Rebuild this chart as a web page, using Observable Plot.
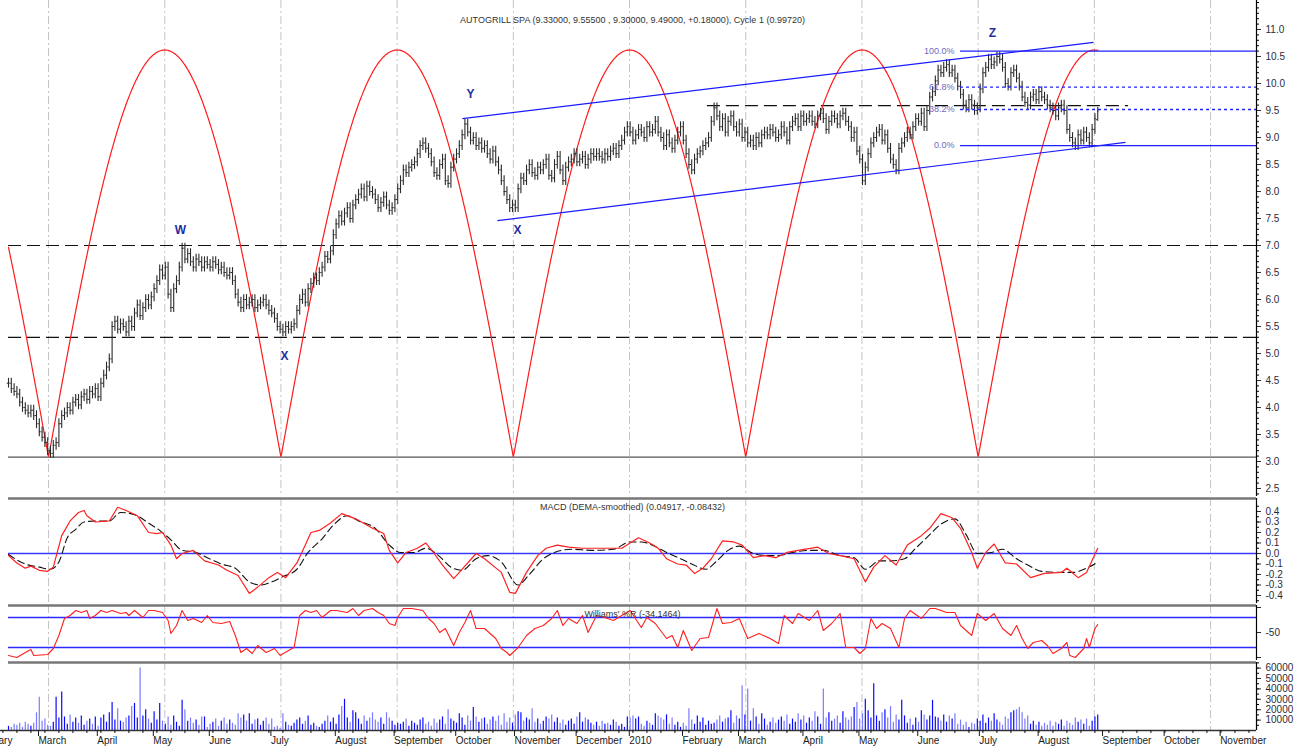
<!DOCTYPE html>
<html><head><meta charset="utf-8">
<script src="https://cdn.jsdelivr.net/npm/d3@7"></script>
<script src="https://cdn.jsdelivr.net/npm/@observablehq/plot@0.6"></script>
<style>
html,body{margin:0;padding:0;background:#fff;}
#chart svg{display:block;}
</style></head><body><div id="chart"></div>
<script>
// ---------- DATA ----------
const titleText = "AUTOGRILL SPA (9.33000, 9.55500 , 9.30000, 9.49000, +0.18000), Cycle 1 (0.99720)";
const macdTitle = "MACD (DEMA-smoothed) (0.04917, -0.08432)";
const willTitle = "Williams' %R (-34.1464)";

// daily closes, one per trading day (bar index 0..389)
const closes = [
4.45,4.35,4.3,4.25,4.1,4.0,3.95,3.9,3.95,3.85,
3.7,3.55,3.45,3.35,3.2,3.15,3.3,3.35,3.7,3.85,
3.9,4.0,3.95,4.1,4.15,4.05,4.2,4.25,4.15,4.3,
4.25,4.35,4.2,4.45,4.6,4.75,4.9,5.5,5.6,5.45,
5.55,5.5,5.4,5.6,5.5,5.75,5.9,5.7,5.85,6.0,
5.9,6.05,6.2,6.35,6.55,6.45,6.6,6.1,5.85,6.2,
6.35,6.6,6.95,6.75,6.85,6.7,6.6,6.75,6.7,6.6,
6.7,6.65,6.6,6.7,6.65,6.55,6.6,6.5,6.45,6.5,
6.35,6.1,5.95,5.85,6.0,5.9,5.95,6.0,5.85,5.9,
5.95,6.0,5.9,5.8,5.75,5.65,5.5,5.45,5.4,5.5,
5.45,5.5,5.55,5.8,6.0,6.1,5.95,6.2,6.3,6.4,
6.35,6.5,6.6,6.8,6.75,6.9,7.2,7.4,7.55,7.45,
7.6,7.7,7.5,7.75,7.85,7.95,8.05,7.9,8.1,8.0,
7.95,7.85,7.7,7.8,7.9,7.75,7.65,7.7,7.85,8.05,
8.2,8.4,8.35,8.45,8.5,8.55,8.7,8.85,8.9,8.8,
8.7,8.55,8.35,8.3,8.5,8.6,8.2,8.15,8.45,8.6,
8.7,8.85,9.05,9.25,9.1,8.95,9.0,8.85,8.9,8.8,
8.85,8.7,8.6,8.75,8.55,8.4,8.2,8.0,7.85,7.7,
7.75,7.7,8.05,8.25,8.2,8.4,8.5,8.35,8.3,8.45,
8.4,8.5,8.6,8.3,8.25,8.5,8.65,8.4,8.2,8.45,
8.55,8.6,8.7,8.55,8.6,8.65,8.5,8.6,8.7,8.65,
8.7,8.65,8.6,8.7,8.65,8.75,8.8,8.7,8.85,8.95,
9.1,9.2,9.1,8.95,9.05,9.15,9.1,9.0,9.2,9.1,
9.15,9.3,9.1,9.0,8.85,9.05,8.9,8.8,8.95,9.1,
9.2,8.95,8.7,8.5,8.4,8.6,8.7,8.75,8.85,8.9,
9.0,9.3,9.55,9.4,9.2,9.35,9.1,9.3,9.4,9.2,
9.1,9.25,9.0,9.1,8.9,8.95,8.85,9.0,8.9,9.05,
9.1,9.05,9.15,9.1,9.0,9.05,9.2,9.1,8.95,9.2,
9.3,9.35,9.2,9.4,9.3,9.35,9.4,9.3,9.25,9.4,
9.45,9.35,9.15,9.3,9.4,9.35,9.25,9.4,9.45,9.3,
9.2,9.0,9.1,8.75,8.6,8.2,8.45,8.7,8.9,9.0,
9.1,9.15,8.95,9.05,8.8,8.6,8.5,8.4,8.8,8.9,
9.0,9.1,9.05,9.2,9.35,9.3,9.45,9.2,9.5,9.75,
9.85,10.05,10.25,10.2,10.3,10.35,10.2,10.25,10.1,9.95,
9.8,9.6,9.55,9.7,9.6,9.5,9.55,9.9,10.2,10.3,
10.45,10.35,10.4,10.5,10.45,10.3,10.0,9.95,10.2,10.25,
10.1,9.95,9.75,9.65,9.6,9.75,9.8,9.7,9.85,9.75,
9.7,9.6,9.55,9.5,9.4,9.55,9.6,9.5,9.15,9.0,
8.9,8.85,9.05,8.95,9.1,9.0,8.9,9.15,9.35,9.49];
const lastBar = {open: 9.33, high: 9.555, low: 9.30, close: 9.49};
const barRange = 0.09;

// volume, thousands of shares per day
const volume = [
4,3,6,5,7,3,8,6,4,7, 17,32,9,11,5,4,8,32,12,37, 13,6,15,8,12,7,14,5,9,11,
6,13,4,12,15,8,17,27,10,21, 9,8,12,14,23,26,12,60,14,20, 11,7,18,10,26,9,6,13,5,14,
8,4,29,20,9,12,7,10,5,13, 13,3,6,8,11,4,9,12,6,10, 7,5,16,12,15,9,16,6,10,11,
5,9,12,6,11,3,4,2,16,8, 5,4,7,10,12,6,9,14,5,7, 4,3,6,9,14,8,12,6,15,23,
30,12,8,19,17,11,6,14,9,12, 17,10,8,12,6,17,12,9,5,7, 6,8,11,4,9,7,5,10,12,6,
8,4,11,7,10,13,6,20,11,9, 7,16,12,5,14,9,22,13,8,11, 12,6,10,13,9,14,5,16,8,12,
7,15,18,17,9,12,10,21,8,11, 6,9,13,11,15,8,12,7,10,5, 9,11,6,13,17,8,12,10,7,5,
8,4,9,6,7,5,10,8,4,6, 3,13,12,14,11,13,6,4,9,7, 5,16,14,12,10,15,6,12,5,8,
3,7,4,21,10,6,14,8,12,5, 9,6,7,10,14,8,11,12,19,7, 14,11,43,15,40,9,21,13,6,16,
11,5,8,12,7,10,13,9,15,6, 11,8,16,10,14,7,12,9,18,13, 6,40,12,17,9,11,14,7,18,12,
10,13,22,27,11,16,30,19,12,45, 14,9,17,20,12,23,8,15,10,29, 14,7,11,5,12,8,19,15,10,14,
29,13,12,9,15,8,14,11,16,6, 10,5,8,3,7,6,11,9,15,7, 12,9,16,10,8,5,13,11,17,19,
20,22,17,11,14,6,9,5,8,4, 7,5,9,4,8,6,10,4,9,7, 5,12,8,10,6,11,4,9,13,15];

// MACD and signal: [bar index, value]
const macdPts = [[0,-0.02],[3,-0.09],[6,-0.14],[8,-0.12],[11,-0.16],[14,-0.17],[16,-0.13],[19,0.17],[22,0.31],[25,0.39],[27,0.41],[28,0.36],[31,0.30],[36,0.31],[39,0.44],[42,0.41],[46,0.36],[50,0.20],[53,0.19],[55,0.20],[58,0.08],[60,-0.05],[62,0.0],[66,0.03],[70,-0.07],[75,-0.11],[78,-0.16],[82,-0.21],[86,-0.38],[89,-0.32],[93,-0.23],[96,-0.18],[99,-0.23],[103,-0.09],[106,0.08],[108,0.2],[111,0.22],[115,0.29],[119,0.38],[124,0.33],[130,0.24],[134,0.19],[136,0.03],[139,-0.09],[142,0.01],[146,0.05],[149,0.10],[152,0.0],[155,-0.11],[159,-0.24],[161,-0.18],[167,0.0],[170,-0.05],[176,-0.18],[179,-0.37],[181,-0.38],[185,-0.18],[189,-0.02],[192,0.05],[196,0.08],[200,0.06],[205,0.05],[211,0.05],[219,0.05],[225,0.15],[229,0.10],[232,0.05],[235,-0.05],[239,-0.10],[242,-0.11],[245,-0.19],[248,-0.14],[251,-0.05],[255,0.12],[259,0.11],[262,0.08],[266,-0.04],[270,-0.02],[274,-0.04],[278,0.01],[282,0.03],[289,0.06],[293,0.0],[297,-0.02],[302,-0.05],[306,-0.27],[309,-0.13],[313,-0.02],[317,-0.11],[321,0.08],[326,0.17],[329,0.24],[333,0.38],[337,0.34],[340,0.24],[344,0.01],[346,-0.14],[349,0.01],[352,0.09],[356,-0.09],[360,-0.10],[365,-0.23],[370,-0.19],[376,-0.18],[378,-0.14],[382,-0.23],[385,-0.18],[389,0.049]];
const signalPts = [[0,-0.01],[6,-0.10],[11,-0.13],[15,-0.15],[18,-0.08],[21,0.15],[24,0.23],[27,0.30],[31,0.31],[36,0.31],[40,0.39],[45,0.37],[50,0.29],[54,0.22],[58,0.13],[62,0.03],[67,0.01],[71,-0.04],[76,-0.10],[81,-0.14],[86,-0.27],[90,-0.30],[94,-0.27],[98,-0.22],[103,-0.15],[107,0.01],[112,0.14],[116,0.27],[121,0.36],[125,0.31],[131,0.24],[136,0.08],[140,0.01],[145,0.01],[149,0.05],[154,-0.03],[158,-0.13],[162,-0.16],[167,-0.05],[171,-0.02],[176,-0.08],[182,-0.30],[186,-0.20],[191,-0.05],[195,0.01],[201,0.04],[209,0.03],[216,0.04],[222,0.11],[226,0.11],[229,0.09],[235,0.01],[240,-0.05],[244,-0.10],[249,-0.15],[253,-0.07],[257,0.03],[261,0.07],[266,0.0],[271,-0.02],[275,-0.02],[280,0.01],[286,0.03],[291,0.03],[297,-0.02],[302,-0.04],[306,-0.15],[311,-0.07],[315,-0.07],[320,-0.05],[324,0.05],[329,0.18],[333,0.28],[338,0.33],[342,0.18],[346,0.0],[351,0.01],[355,0.04],[360,-0.05],[364,-0.11],[369,-0.17],[375,-0.18],[380,-0.18],[385,-0.14],[389,-0.084]];

// Williams %R: [bar index, value]
const willPts = [[0,-96],[3,-100],[6,-90],[8,-84],[9,-96],[14,-94],[16,-82],[18,-56],[20,-22],[22,-16],[24,-6],[26,-10],[28,-6],[29,-22],[31,-16],[33,-6],[35,-10],[37,-6],[40,-12],[42,-10],[43,-16],[45,-6],[48,-20],[50,-6],[52,-6],[55,-10],[57,-26],[58,-52],[60,-36],[62,-6],[64,-26],[66,-22],[69,-30],[71,-16],[73,-30],[76,-32],[79,-28],[81,-56],[83,-90],[85,-82],[87,-92],[89,-76],[92,-90],[95,-82],[97,-96],[100,-86],[102,-80],[104,-16],[106,-6],[108,-10],[110,-6],[112,-20],[115,-6],[117,-6],[121,-10],[123,-2],[125,-16],[127,-6],[130,-2],[132,-10],[134,-16],[136,-32],[138,-36],[139,-20],[141,-2],[144,-2],[148,-6],[150,-22],[152,-32],[154,-50],[156,-42],[159,-76],[161,-50],[163,-30],[165,-6],[167,-42],[170,-42],[174,-62],[176,-82],[178,-90],[179,-96],[182,-80],[185,-56],[188,-42],[191,-36],[194,-22],[196,-6],[198,-36],[200,-22],[203,-32],[205,-16],[207,-50],[210,-16],[213,-20],[216,-26],[219,-16],[222,-6],[226,-40],[228,-20],[231,-32],[235,-62],[237,-56],[239,-80],[241,-46],[244,-86],[247,-62],[250,-60],[253,-2],[255,-32],[258,-30],[261,-22],[264,-62],[268,-52],[272,-62],[275,-72],[277,-16],[280,-32],[282,-12],[286,-26],[289,-6],[291,-46],[294,-32],[297,-12],[299,-80],[302,-80],[304,-92],[306,-82],[308,-22],[310,-42],[312,-32],[315,-42],[318,-80],[320,-22],[322,-6],[326,-22],[329,-2],[331,-2],[335,-10],[338,-10],[340,-36],[344,-56],[346,-12],[349,-26],[352,-12],[355,-42],[358,-56],[360,-36],[362,-62],[364,-82],[366,-70],[369,-66],[371,-76],[373,-92],[376,-82],[378,-70],[379,-96],[381,-100],[384,-82],[385,-62],[386,-80],[388,-42],[389,-34.1464]];
const willLevels = [-20, -80];

// cycle parameters (bar index of first trough, period in bars, price range)
const cycleStart = 14.3, cyclePeriod = 83, cycleLow = 3.08, cycleHigh = 10.62, cycleEnd = 389;

// horizontal levels
const dashLevels = [{price: 7.0, from: 0, to: 445.7}, {price: 5.3, from: 0, to: 445.7}, {price: 9.59, from: 249.6, to: 400}];
const solidLevels = [{price: 3.08, from: 0, to: 445.7}];

// trend channel anchors (bar index, price)
const channel = [{x1: 162.1, y1: 9.35, x2: 387.5, y2: 10.76}, {x1: 174.6, y1: 7.46, x2: 398.9, y2: 8.91}];

// Fibonacci retracement
const fibHigh = 10.6, fibLow = 8.85, fibFrom = 340, fibTo = 445.7;
const fibRatios = [1, 0.618, 0.382, 0];
const fibLabels = ["100.0%", "61.8%", "38.2%", "0.0%"];

// wave labels
const waves = [{t: "W", i: 61.4, p: 7.28}, {t: "X", i: 98.6, p: 4.96}, {t: "Y", i: 165, p: 9.81}, {t: "X", i: 181.8, p: 7.28}, {t: "Z", i: 351.4, p: 10.93}];

// month ticks (bar index)
const monthTicks = [{l:"February",i:-13.6},{l:"March",i:10},{l:"April",i:31},{l:"May",i:51},{l:"June",i:71},{l:"July",i:93},{l:"August",i:116},{l:"September",i:137},{l:"October",i:159},{l:"November",i:180},{l:"December",i:202},{l:"2010",i:221},{l:"February",i:240},{l:"March",i:260},{l:"April",i:283},{l:"May",i:303},{l:"June",i:324},{l:"July",i:346},{l:"August",i:367},{l:"September",i:390},{l:"October",i:412},{l:"November",i:432}];

const priceTicks = [2.5,3.0,3.5,4.0,4.5,5.0,5.5,6.0,6.5,7.0,7.5,8.0,8.5,9.0,9.5,10.0,10.5,11.0];
const macdTicks = [-0.4,-0.3,-0.2,-0.1,0,0.1,0.2,0.3,0.4];
const willTicks = [0, -50, -100];
const volTicks = [10000,20000,30000,40000,50000,60000];

// ---------- BUILD ----------
const W = 1301, ML = 8, MR = 45, XMAX = 445.7;
const FONT = "Liberation Sans, Arial, Helvetica, sans-serif";
const style = {fontFamily: FONT, fontSize: "10px", background: "white", overflow: "visible"};
const gridIdx = d3.range(11).map(k => cycleStart + k * cyclePeriod / 2);
const gridMark = () => Plot.ruleX(gridIdx, {stroke: "#c4c4c4", strokeWidth: 1, strokeDasharray: "8,3,2,3"});
const axisLine = () => Plot.ruleX([XMAX], {stroke: "#000", strokeWidth: 1.2});
const AX = "#2b2b3a";

const bars = closes.map((c, i) => {
  let o = i ? closes[i - 1] : c;
  let hi = Math.max(o, c) + barRange, lo = Math.min(o, c) - barRange;
  if (i === closes.length - 1) { o = lastBar.open; hi = lastBar.high; lo = lastBar.low; c = lastBar.close; }
  return {i, o, c, hi, lo};
});
const cyclePts = d3.range(0, cycleEnd + 0.001, 0.25).map(i => ({i, p: cycleLow + (cycleHigh - cycleLow) * Math.abs(Math.sin(Math.PI * (i - cycleStart) / cyclePeriod))}));
const fib = fibRatios.map((r, k) => ({r, label: fibLabels[k], price: fibLow + r * (fibHigh - fibLow)}));

const main = Plot.plot({
  width: W, height: 496, marginLeft: ML, marginRight: MR, marginTop: 0, marginBottom: 0,
  x: {domain: [0, XMAX], axis: null},
  y: {domain: [2.352, 11.537]},
  style,
  marks: [
    gridMark(),
    Plot.ruleY(solidLevels, {y: "price", x1: "from", x2: "to", stroke: "#555", strokeWidth: 1.3}),
    Plot.ruleY(dashLevels, {y: "price", x1: "from", x2: "to", stroke: "#111", strokeWidth: 1.2, strokeDasharray: "13,6"}),
    Plot.line(cyclePts, {x: "i", y: "p", stroke: "#ff1a1a", strokeWidth: 1.2}),
    Plot.ruleX(bars, {x: "i", y1: "lo", y2: "hi", stroke: "#2a2a2a", strokeWidth: 1.1}),
    Plot.ruleY(bars, {y: "o", x1: d => d.i - 0.45, x2: "i", stroke: "#2a2a2a", strokeWidth: 1}),
    Plot.ruleY(bars, {y: "c", x1: "i", x2: d => d.i + 0.45, stroke: "#2a2a2a", strokeWidth: 1}),
    Plot.link(channel, {x1: "x1", y1: "y1", x2: "x2", y2: "y2", stroke: "#1a1aff", strokeWidth: 1.2}),
    Plot.ruleY(fib.filter(d => d.r === 0 || d.r === 1), {y: "price", x1: fibFrom, x2: fibTo, stroke: "#2020ff", strokeWidth: 1.3}),
    Plot.ruleY(fib.filter(d => d.r > 0 && d.r < 1), {y: "price", x1: fibFrom, x2: fibTo, stroke: "#2020ff", strokeWidth: 1.3, strokeDasharray: "3,3"}),
    Plot.text(fib, {x: fibFrom, y: "price", text: "label", textAnchor: "end", dx: -6, fill: "#6b6bbf", fontSize: 9}),
    Plot.text(waves, {x: "i", y: "p", text: "t", fill: "#1f2fa0", fontWeight: "bold", fontSize: 12}),
    Plot.text([titleText], {frameAnchor: "top", dy: 16, fill: "#333", fontSize: 9}),
    Plot.axisY({anchor: "right", label: null, ticks: d3.range(24, 116).map(k => k / 10), tickSize: 2, tickFormat: () => "", color: "#000"}),
    Plot.axisY({anchor: "right", label: null, ticks: priceTicks, tickSize: 4, tickFormat: d => d.toFixed(1), color: AX, fontSize: 10}),
    axisLine()
  ]
});

const macdData = macdPts.map(([i, v]) => ({i, v}));
const sigData = signalPts.map(([i, v]) => ({i, v}));
const macd = Plot.plot({
  width: W, height: 107, marginLeft: ML, marginRight: MR, marginTop: 2, marginBottom: 0,
  x: {domain: [0, XMAX], axis: null},
  y: {domain: [-0.4762, 0.5238]},
  style,
  marks: [
    gridMark(),
    Plot.ruleY([0.5238], {x1: 0, x2: XMAX, stroke: "#777", strokeWidth: 2.6}),
    Plot.ruleY([0], {x1: 0, x2: XMAX, stroke: "#3a3aff", strokeWidth: 1.5}),
    Plot.line(sigData, {x: "i", y: "v", stroke: "#111", strokeWidth: 1.1, strokeDasharray: "7,4", curve: "monotone-x"}),
    Plot.line(macdData, {x: "i", y: "v", stroke: "#ff2020", strokeWidth: 1.2}),
    Plot.text([macdTitle], {frameAnchor: "top", dy: 5, fill: "#333", fontSize: 9}),
    Plot.axisY({anchor: "right", label: null, ticks: d3.range(-9, 10).map(k => k / 20), tickSize: 2, tickFormat: () => "", color: "#000"}),
    Plot.axisY({anchor: "right", label: null, ticks: macdTicks, tickSize: 4, tickFormat: d => d.toFixed(1), color: AX, fontSize: 10}),
    axisLine()
  ]
});

const willData = willPts.map(([i, v]) => ({i, v}));
const will = Plot.plot({
  width: W, height: 57, marginLeft: ML, marginRight: MR, marginTop: 2, marginBottom: 0,
  x: {domain: [0, XMAX], axis: null},
  y: {domain: [-106, 4]},
  style,
  marks: [
    gridMark(),
    Plot.ruleY([4], {x1: 0, x2: XMAX, stroke: "#777", strokeWidth: 2.6}),
    Plot.ruleY(willLevels, {x1: 0, x2: XMAX, stroke: "#2a2aff", strokeWidth: 1.5}),
    Plot.line(willData, {x: "i", y: "v", stroke: "#ff2020", strokeWidth: 1.1}),
    Plot.text([willTitle], {frameAnchor: "top", dy: 5, fill: "#333", fontSize: 9}),
    Plot.axisY({anchor: "right", label: null, ticks: willTicks, tickSize: 4, tickFormat: d => d === -50 ? String(d) : "", color: AX, fontSize: 10}),
    axisLine()
  ]
});

const volData = volume.map((v, i) => ({i, v: v * 1000, up: i === 0 || closes[i] >= closes[i - 1]}));
const monthMap = new Map(monthTicks.map(d => [d.i, d.l]));
const vol = Plot.plot({
  width: W, height: 87, marginLeft: ML, marginRight: MR, marginTop: 2, marginBottom: 17,
  x: {domain: [0, XMAX]},
  y: {domain: [0, 65385]},
  style,
  marks: [
    gridMark(),
    Plot.ruleY([65385], {x1: 0, x2: XMAX, stroke: "#777", strokeWidth: 2.6}),
    Plot.ruleX(volData, {x: "i", y1: 0, y2: "v", stroke: d => d.up ? "#0a0aff" : "#7b7bff", strokeWidth: 1.2}),
    Plot.ruleY([0], {x1: -4, x2: XMAX, stroke: "#333", strokeWidth: 1.6}),
    Plot.axisX({anchor: "bottom", label: null, ticks: d3.range(-12, 446, 5), tickSize: 3, tickFormat: () => "", color: "#111"}),
    Plot.axisX({anchor: "bottom", label: null, ticks: monthTicks.map(d => d.i), tickSize: 6, tickPadding: 0, tickFormat: i => monthMap.get(i), textAnchor: "start", dx: 2, color: "#1a1a1a", fontSize: 10}),
    Plot.axisY({anchor: "right", label: null, ticks: d3.range(1, 14).map(k => k * 5000), tickSize: 2, tickFormat: () => "", color: "#000"}),
    Plot.axisY({anchor: "right", label: null, ticks: volTicks, tickSize: 4, tickFormat: d => String(d), color: AX, fontSize: 10}),
    axisLine()
  ]
});

const root = document.getElementById("chart");
[main, macd, will, vol].forEach(el => root.appendChild(el));
</script>
</body></html>
